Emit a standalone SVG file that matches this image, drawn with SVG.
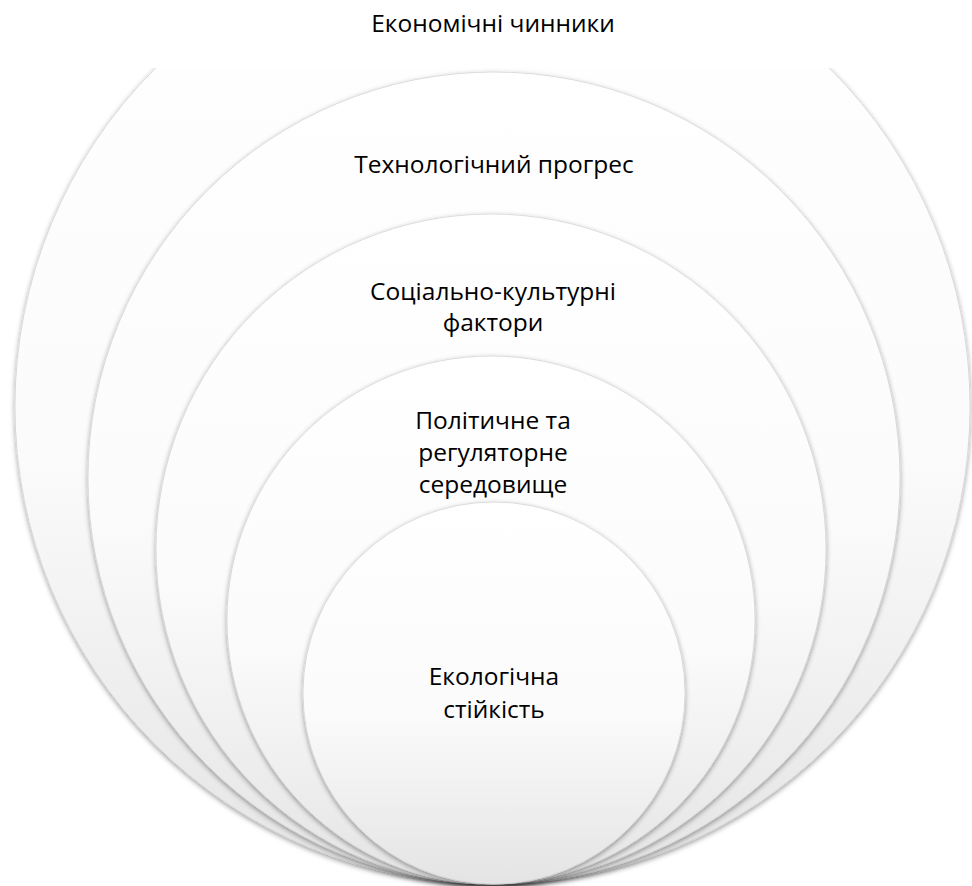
<svg xmlns="http://www.w3.org/2000/svg" width="972" height="886" viewBox="0 0 972 886">
<defs>
<linearGradient id="g" x1="0" y1="0" x2="0" y2="1">
<stop offset="0" stop-color="#ffffff"/>
<stop offset="0.55" stop-color="#fbfbfb"/>
<stop offset="1" stop-color="#e4e4e4"/>
</linearGradient>
<filter id="sh" x="-10%" y="-10%" width="120%" height="120%">
<feDropShadow dx="0" dy="2" stdDeviation="2.5" flood-color="#000" flood-opacity="0.38"/>
</filter>
<clipPath id="clip"><rect x="0" y="68" width="972" height="818"/></clipPath>
</defs>
<style>
.c{fill:url(#g);stroke:#d4d4d4;stroke-width:0.8;filter:url(#sh)}
.t{font-family:"Open Sans","Liberation Sans",sans-serif;font-size:24.5px;fill:#000;text-anchor:middle}
</style>
<rect width="972" height="886" fill="#fff"/>
<g id="n1">
<g clip-path="url(#clip)"><circle class="c" cx="492.5" cy="406.5" r="477.5"/></g>
<text class="t" x="493" y="32">Економічні чинники</text>
</g>
<g id="n2">
<circle class="c" cx="494" cy="478" r="406"/>
<text class="t" x="494" y="173">Технологічний прогрес</text>
</g>
<g id="n3">
<circle class="c" cx="491" cy="549" r="335"/>
<text class="t" x="493" y="300">Соціально-культурні</text>
<text class="t" x="493" y="331">фактори</text>
</g>
<g id="n4">
<circle class="c" cx="491" cy="620" r="264"/>
<text class="t" x="493" y="429">Політичне та</text>
<text class="t" x="493" y="461">регуляторне</text>
<text class="t" x="493" y="493">середовище</text>
</g>
<g id="n5">
<circle class="c" cx="494" cy="693" r="191"/>
<text class="t" x="494" y="685">Екологічна</text>
<text class="t" x="494" y="718">стійкість</text>
</g>
<g id="connectors"/>
</svg>
